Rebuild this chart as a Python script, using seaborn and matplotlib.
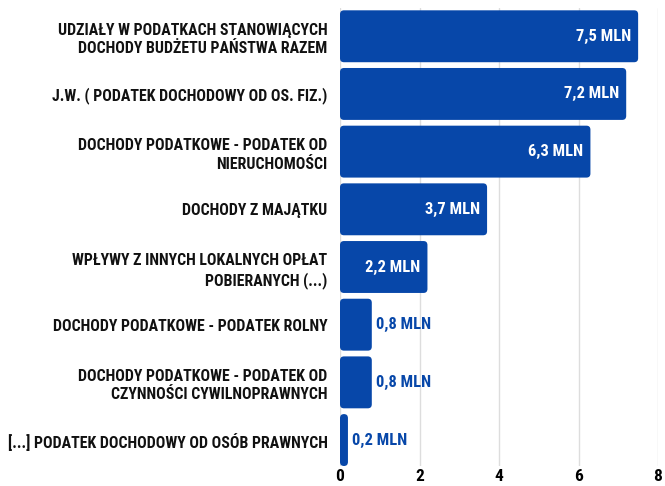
import matplotlib
matplotlib.use("Agg")
import matplotlib.pyplot as plt
from matplotlib import font_manager
from matplotlib.font_manager import FontProperties
from matplotlib.textpath import TextPath
from matplotlib.patches import FancyBboxPatch
import seaborn as sns
import pandas as pd

categories = [
    "UDZIAŁY W PODATKACH STANOWIĄCYCH\nDOCHODY BUDŻETU PAŃSTWA RAZEM",
    "J.W. ( PODATEK DOCHODOWY OD OS. FIZ.)",
    "DOCHODY PODATKOWE - PODATEK OD\nNIERUCHOMOŚCI",
    "DOCHODY Z MAJĄTKU",
    "WPŁYWY Z INNYCH LOKALNYCH OPŁAT\nPOBIERANYCH (...)",
    "DOCHODY PODATKOWE - PODATEK ROLNY",
    "DOCHODY PODATKOWE - PODATEK OD\nCZYNNOŚCI CYWILNOPRAWNYCH",
    "[...] PODATEK DOCHODOWY OD OSÓB PRAWNYCH",
]
values = [7.5, 7.2, 6.3, 3.7, 2.2, 0.8, 0.8, 0.2]
value_labels = ["7,5 MLN", "7,2 MLN", "6,3 MLN", "3,7 MLN", "2,2 MLN",
                "0,8 MLN", "0,8 MLN", "0,2 MLN"]
x_ticks = [0, 2, 4, 6, 8]

BLUE = "#0747a9"

sns.set_theme(style="white")

# narrowest bold sans face among a few known families
wanted = {"Liberation Sans Narrow", "DejaVu Sans", "Roboto", "Roboto Condensed",
          "Open Sans", "Noto Sans", "Liberation Sans"}
longest = "[...] PODATEK DOCHODOWY OD OSÓB PRAWNYCH"
best = None
for f in font_manager.fontManager.ttflist:
    if f.name not in wanted or f.style != "normal":
        continue
    w = f.weight if isinstance(f.weight, int) else 400
    if w < 600 or w > 800:
        continue
    if not f.fname.lower().endswith((".ttf", ".otf")):
        continue
    try:
        prop = FontProperties(fname=f.fname, size=10)
        wid = TextPath((0, 0), longest, prop=prop).get_extents().width
        cap = TextPath((0, 0), "H", prop=prop).get_extents().height
    except Exception:
        continue
    ratio = wid / cap
    if best is None or ratio < best[0]:
        best = (ratio, f.fname, wid)

if best is None:
    fname = font_manager.findfont(FontProperties(family="DejaVu Sans", weight="bold"))
    prop = FontProperties(fname=fname, size=10)
    best = (0, fname, TextPath((0, 0), longest, prop=prop).get_extents().width)
fname = best[1]

# size so the longest label spans ~318 px at 100 dpi
label_size = min(10 * 318 / (best[2] * 100 / 72), 15)


def fp(size):
    return FontProperties(fname=fname, size=size)


df = pd.DataFrame({"kategoria": categories, "wartosc": values})

fig = plt.figure(figsize=(6.65, 4.86), dpi=100)
ax = fig.add_axes([340 / 665, 1 - 466 / 486, 318 / 665, 458 / 486])

sns.barplot(data=df, x="wartosc", y="kategoria", color=BLUE, saturation=1,
            width=0.9, orient="h", ax=ax, zorder=2)

# swap plain rectangles for rounded ones of the same size
for p in list(ax.patches):
    x0, y0 = p.get_x(), p.get_y()
    w, h = p.get_width(), p.get_height()
    rb = FancyBboxPatch((x0, y0), w, h,
                        boxstyle="round,pad=0,rounding_size=0.1",
                        mutation_aspect=0.7, facecolor=BLUE,
                        edgecolor="none", zorder=2)
    p.remove()
    ax.add_patch(rb)

ax.set_xlim(0, 8)
ax.set_ylim(7.45, -0.49)
ax.set_xticks(x_ticks)
ax.set_xticklabels([str(t) for t in x_ticks], fontproperties=fp(12.5),
                   color="black")
ax.set_yticklabels(categories, fontproperties=fp(label_size), color="#111111",
                   linespacing=1.3)
ax.tick_params(axis="y", length=0, pad=9)
ax.tick_params(axis="x", length=0, pad=2)
ax.set_xlabel("")
ax.set_ylabel("")
ax.grid(axis="x", color="#dddddd", linewidth=1, zorder=0)
ax.grid(axis="y", visible=False)
for s in ax.spines.values():
    s.set_visible(False)

for i, (v, lab) in enumerate(zip(values, value_labels)):
    if v >= 2:
        ax.annotate(lab, (v, i), xytext=(-5, 0), textcoords="offset points",
                    ha="right", va="center", color="white",
                    fontproperties=fp(label_size + 0.5), zorder=3)
    else:
        ax.annotate(lab, (v, i), xytext=(3, 0), textcoords="offset points",
                    ha="left", va="center", color=BLUE,
                    fontproperties=fp(label_size + 0.5), zorder=3)

fig.savefig("out.png", dpi=100, facecolor="white")
